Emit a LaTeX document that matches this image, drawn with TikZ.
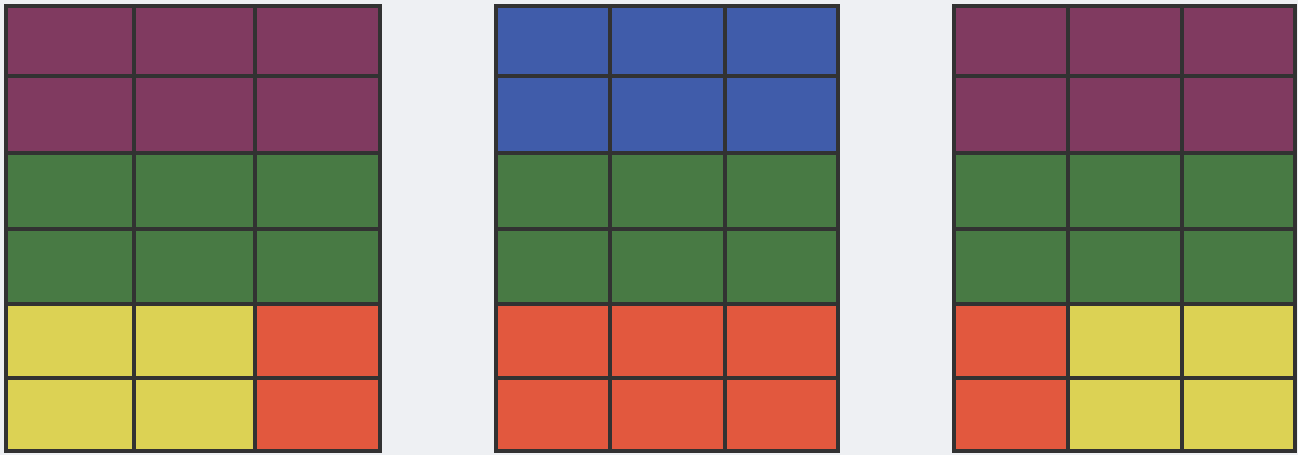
\documentclass[tikz,border=0pt]{standalone}
\usepackage{tikz}
\usetikzlibrary{positioning,calc}

\definecolor{bgpaper}{RGB}{238,240,243}
\definecolor{plum}{RGB}{128,58,96}
\definecolor{blueband}{RGB}{64,92,170}
\definecolor{greenband}{RGB}{72,122,68}
\definecolor{yellowband}{RGB}{220,210,84}
\definecolor{redband}{RGB}{226,88,62}
\definecolor{gridline}{RGB}{50,50,50}

\begin{document}
\begin{tikzpicture}[
  x=0.01cm, y=-0.01cm,
  gridbox/.style={draw=gridline, line width=1.1pt},
  cellline/.style={draw=gridline, line width=1.0pt},
]
%% ── Background / bounding box ──
\fill[bgpaper] (0,0) rectangle (1298,455);
\useasboundingbox (0,0) rectangle (1298,455);

%% ── Grid 1 ──
\fill[plum]       (6,6)     rectangle (380,153);
\fill[greenband]  (6,153)   rectangle (380,304);
\fill[yellowband] (6,304)   rectangle (255,451);
\fill[redband]    (255,304) rectangle (380,451);
\coordinate (g1nw) at (6,6);
\coordinate (g1se) at (380,451);
\foreach \cx in {134,255}
  \draw[cellline] (\cx,6) -- (\cx,451);
\foreach \ry in {76,153,229,304,378}
  \draw[cellline] (6,\ry) -- (380,\ry);
\draw[gridbox] (g1nw) rectangle (g1se);

%% ── Grid 2 ──
\fill[blueband]   (496,6)   rectangle (838,153);
\fill[greenband]  (496,153) rectangle (838,304);
\fill[redband]    (496,304) rectangle (838,451);
\coordinate (g2nw) at (496,6);
\coordinate (g2se) at (838,451);
\foreach \cx in {610,725}
  \draw[cellline] (\cx,6) -- (\cx,451);
\foreach \ry in {76,153,229,304,378}
  \draw[cellline] (496,\ry) -- (838,\ry);
\draw[gridbox] (g2nw) rectangle (g2se);

%% ── Grid 3 ──
\fill[plum]       (954,6)    rectangle (1295,153);
\fill[greenband]  (954,153)  rectangle (1295,304);
\fill[redband]    (954,304)  rectangle (1068,451);
\fill[yellowband] (1068,304) rectangle (1295,451);
\coordinate (g3nw) at (954,6);
\coordinate (g3se) at (1295,451);
\foreach \cx in {1068,1182}
  \draw[cellline] (\cx,6) -- (\cx,451);
\foreach \ry in {76,153,229,304,378}
  \draw[cellline] (954,\ry) -- (1295,\ry);
\draw[gridbox] (g3nw) rectangle (g3se);
\end{tikzpicture}
\end{document}
